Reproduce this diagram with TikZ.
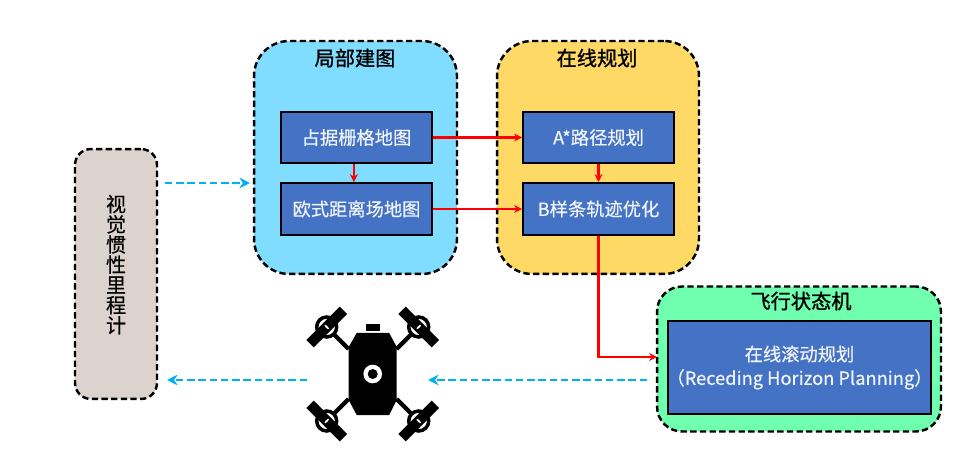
\documentclass[tikz,border=0pt]{standalone}
\usepackage{fontspec}
\setmainfont{Noto Sans CJK SC}
\newfontfamily\boxfont{Noto Sans CJK SC}[FakeBold=0.5]
\newfontfamily\titlefont{Noto Sans CJK SC}[FakeBold=1.2]
\usepackage{xcolor}
\usetikzlibrary{arrows.meta, positioning}
\definecolor{boxblue}{HTML}{4472C4}
\definecolor{mapblue}{HTML}{80DDFF}
\definecolor{planyellow}{HTML}{FFD966}
\definecolor{fsmgreen}{HTML}{6FFFAF}
\definecolor{viogray}{HTML}{DDD3CE}
\definecolor{flowblue}{HTML}{00B0F0}
\tikzset{
  groupbox/.style={draw=black, line width=1.4pt, dash pattern=on 3.6pt off 1.9pt, inner sep=0pt},
  stagebox/.style={draw=black, line width=1.1pt, fill=boxblue, text=white!92!boxblue,
    inner sep=0pt, font=\fontsize{10.4}{13.6}\selectfont\boxfont, align=center},
  titletext/.style={inner sep=0pt, font=\fontsize{11.5}{13}\selectfont\titlefont},
  redflow/.style={draw=red, line width=1.2pt, -{Stealth[length=4.5pt, width=4.5pt]}},
  blueflow/.style={draw=flowblue, line width=1.3pt, dash pattern=on 4.2pt off 2.2pt,
    -{Stealth[length=6pt, width=6pt]}},
}
\begin{document}
\begin{tikzpicture}[x=0.02cm, y=-0.02cm]
  \useasboundingbox (0,0) rectangle (979,465);

  % Visual-inertial odometry
  \node[groupbox, fill=viogray, rounded corners=0.32cm, minimum width=1.64cm, minimum height=5cm,
    align=center, font=\fontsize{11.4}{11.5}\selectfont\boxfont] (vio) at (116,274)
    {视\\觉\\惯\\性\\里\\程\\计\\\mbox{}};

  % Local mapping
  \node[groupbox, fill=mapblue, rounded corners=0.7cm, minimum width=4.06cm, minimum height=4.66cm] (mapping) at (355.5,157.5) {};
  \node[titletext] (maptitle) at (355,58) {局部建图};
  \node[stagebox, minimum width=3.02cm, minimum height=1.02cm] (grid) at (356.5,137.5) {占据栅格地图};
  \node[stagebox, minimum width=3.02cm, minimum height=1.04cm] (esdf) at (356.5,209) {欧式距离场地图};

  % Online planning
  \node[groupbox, fill=planyellow, rounded corners=0.7cm, minimum width=4.04cm, minimum height=4.66cm] (planning) at (598,157.5) {};
  \node[titletext] (plantitle) at (597,58) {在线规划};
  \node[stagebox, minimum width=3.02cm, minimum height=1.02cm] (astar) at (598.5,137.5) {A*路径规划};
  \node[stagebox, minimum width=3.02cm, minimum height=1.04cm] (spline) at (598.5,209) {B样条轨迹优化};

  % Flight state machine
  \node[groupbox, fill=fsmgreen, rounded corners=0.5cm, minimum width=5.68cm, minimum height=2.9cm] (fsm) at (799,359) {};
  \node[titletext] (fsmtitle) at (801,301) {飞行状态机};
  \node[stagebox, minimum width=5.26cm, minimum height=1.86cm] (replan) at (799.5,367.5)
    {在线滚动规划\\\hspace*{-4pt}（Receding Horizon Planning）\hspace*{-4pt}};

  % Drone
  \begin{scope}[shift={(372.7,374)}]
    \foreach \sx in {-1,1} \foreach \sy in {-1,1} {
      \begin{scope}[xscale=\sx, yscale=\sy]
        \draw[line width=2.4pt] (-24,-25) -- (-42,-43);
        \filldraw[fill=white, draw=black, line width=2pt] (-46,-47) circle (10);
        \draw[line width=6pt] (-62.7,-30.3) -- (-29.3,-63.7);
        \fill[white, rotate around={-45:(-46,-47)}] (-46,-47) ellipse (3 and 1);
      \end{scope}
    }
    \fill[black] (-16,-41) -- (16.5,-41) -- (24,-27) -- (24,26) -- (16.5,41)
      -- (-16,41) -- (-24,26) -- (-24,-27) -- cycle;
    \fill[black] (-7,-50) rectangle (7,-43);
    \fill[white] (0,0) circle (9.3);
    \fill[black] (0,0) circle (5);
  \end{scope}

  % Free ends of the flows
  \coordinate (vioout) at (165,183);
  \coordinate (mapin) at (250,183);
  \coordinate (fsmout) at (647,380);
  \coordinate (dronein) at (428,380);
  \coordinate (droneout) at (307,380);
  \coordinate (vioin) at (167,380);
  \coordinate (fsmin) at (657,357);

  \draw[redflow] (grid) -- (astar);
  \draw[redflow] (esdf) -- (spline);
  \draw[redflow] ([xshift=-1.5pt]grid.south) -- ([xshift=-1.5pt]esdf.north);
  \draw[redflow] (astar) -- (spline);
  \draw[redflow] (spline.south) |- (fsmin);

  \draw[blueflow] (vioout) -- (mapin);
  \draw[blueflow] (fsmout) -- (dronein);
  \draw[blueflow] (droneout) -- (vioin);
\end{tikzpicture}
\end{document}
